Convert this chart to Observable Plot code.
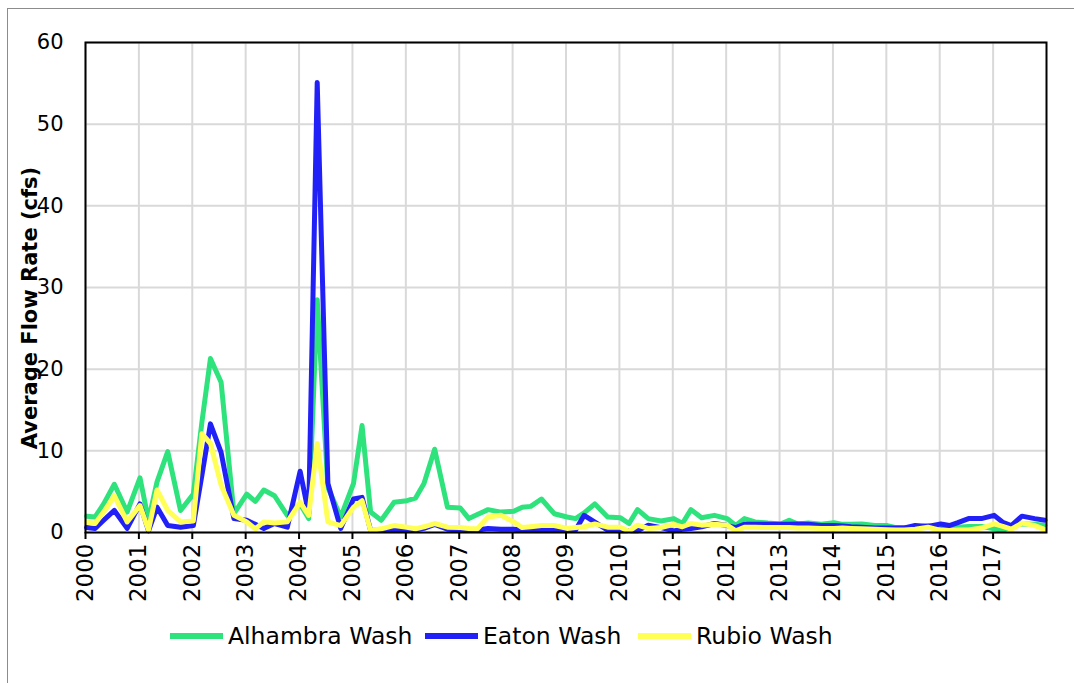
<!DOCTYPE html>
<html>
<head>
<meta charset="utf-8">
<script src="https://cdn.jsdelivr.net/npm/d3@7"></script>
<script src="https://cdn.jsdelivr.net/npm/@observablehq/plot@0.6"></script>
<style>
  body { margin: 0; background: #fff; }
  #wrap { position: relative; width: 1074px; height: 683px; overflow: hidden; background: #fff; font-family: "DejaVu Sans", Verdana, sans-serif; }
  #border { position: absolute; left: 7px; top: 8px; width: 1100px; height: 700px; border-left: 1.5px solid #8c8c8c; border-top: 1.5px solid #8c8c8c; }
  #chart { position: absolute; left: 0; top: 0; }
  #ytitle { position: absolute; left: 30px; top: 308px; transform: translate(-50%, -50%) rotate(-90deg); white-space: nowrap; font-weight: bold; font-size: 21px; color: #000; }
  .leg { position: absolute; top: 622px; display: flex; align-items: center; font-size: 23.5px; color: #000; white-space: nowrap; }
  .sw { width: 53px; height: 6px; margin-right: 5px; }
  #chart g[aria-label="y-axis tick label"] { font-size: 21px; }
  #chart g[aria-label="x-axis tick label"] { font-size: 23px; }
</style>
</head>
<body>
<div id="wrap">
  <div id="border"></div>
  <div id="chart"></div>
  <div id="ytitle"></div>
  <div id="legend"></div>
</div>
<script>
// ---- data ----
const dates = [
  2000.02, 2000.18, 2000.34, 2000.54, 2000.78,
  2001.02, 2001.18, 2001.34, 2001.54, 2001.78,
  2002.02, 2002.18, 2002.34, 2002.54, 2002.78,
  2003.02, 2003.18, 2003.34, 2003.54, 2003.78,
  2004.02, 2004.18, 2004.34, 2004.54, 2004.78,
  2005.02, 2005.18, 2005.34, 2005.54, 2005.78,
  2006.02, 2006.18, 2006.34, 2006.54, 2006.78,
  2007.02, 2007.18, 2007.34, 2007.54, 2007.78,
  2008.02, 2008.18, 2008.34, 2008.54, 2008.78,
  2009.02, 2009.18, 2009.34, 2009.54, 2009.78,
  2010.02, 2010.18, 2010.34, 2010.54, 2010.78,
  2011.02, 2011.18, 2011.34, 2011.54, 2011.78,
  2012.02, 2012.18, 2012.34, 2012.54, 2012.78,
  2013.02, 2013.18, 2013.34, 2013.54, 2013.78,
  2014.02, 2014.18, 2014.34, 2014.54, 2014.78,
  2015.02, 2015.18, 2015.34, 2015.54, 2015.78,
  2016.02, 2016.18, 2016.34, 2016.54, 2016.78,
  2017.02, 2017.18, 2017.34, 2017.54, 2017.78, 2017.97
];

const alhambra = [
  2.0, 1.9, 3.5, 5.9, 2.5,
  6.7, 1.5, 6.2, 9.9, 2.7,
  4.7, 13.5, 21.3, 18.4, 2.3,
  4.7, 3.8, 5.2, 4.5, 2.1,
  3.5, 1.7, 28.5, 5.5, 1.9,
  6.0, 13.1, 2.5, 1.5, 3.7,
  3.9, 4.2, 6.0, 10.2, 3.1,
  3.0, 1.7, 2.2, 2.8, 2.5,
  2.6, 3.1, 3.2, 4.1, 2.3,
  1.9, 1.7, 2.4, 3.5, 1.9,
  1.8, 1.1, 2.8, 1.7, 1.4,
  1.7, 1.1, 2.8, 1.8, 2.1,
  1.7, 0.85, 1.7, 1.3, 1.15,
  1.05, 1.5, 1.05, 1.15, 1.0,
  1.2, 1.0, 1.0, 1.05, 0.85,
  0.85, 0.6, 0.6, 0.65, 0.85,
  0.6, 0.6, 0.65, 0.75, 0.75,
  0.45, 0.25, 0.75, 1.05, 1.0, 0.85
];

const eaton = [
  0.6, 0.5, 1.5, 2.7, 0.5,
  3.5, 0.2, 3.1, 0.85, 0.65,
  0.85, 7.0, 13.3, 9.8, 1.7,
  1.5, 1.0, 0.5, 1.1, 0.65,
  7.5, 2.3, 55.1, 6.0, 0.5,
  4.1, 4.3, 0.25, 0.3, 0.3,
  0.3, 0.3, 0.5, 1.0, 0.4,
  0.3, 0.3, 0.3, 0.5, 0.4,
  0.4, 0.3, 0.3, 0.4, 0.3,
  0.3, 0.3, 2.1, 1.26, 0.3,
  0.2, 0.2, 0.2, 0.9, 0.6,
  0.2, 0.4, 0.5, 0.7, 1.1,
  0.85, 0.6, 1.0, 1.0, 1.0,
  1.0, 1.0, 1.05, 1.0, 0.85,
  0.85, 0.8, 0.7, 0.65, 0.55,
  0.55, 0.55, 0.55, 0.85, 0.75,
  1.05, 0.85, 1.2, 1.7, 1.7,
  2.1, 1.26, 0.85, 2.0, 1.7, 1.5
];

const rubio = [
  1.26, 1.1, 2.5, 4.5, 1.3,
  3.3, 0.3, 5.2, 2.7, 1.3,
  1.4, 12.1, 10.9, 5.8, 2.1,
  1.3, 0.45, 1.3, 1.15, 1.3,
  3.7, 2.1, 10.9, 1.3, 0.85,
  3.1, 3.9, 0.25, 0.45, 0.85,
  0.65, 0.45, 0.7, 1.1, 0.65,
  0.6, 0.5, 0.45, 1.9, 2.1,
  1.3, 0.6, 0.7, 0.85, 0.85,
  0.5, 0.6, 0.7, 1.05, 0.65,
  0.65, 0.15, 0.9, 0.5, 0.6,
  1.0, 0.7, 1.1, 0.9, 1.0,
  0.9, 0.2, 0.65, 0.65, 0.6,
  0.6, 0.6, 0.55, 0.55, 0.5,
  0.5, 0.55, 0.5, 0.45, 0.4,
  0.35, 0.3, 0.3, 0.4, 0.65,
  0.25, 0.25, 0.3, 0.3, 0.55,
  1.05, 0.75, 0.4, 1.15, 0.85, 0.35
];

const seriesNames = ["Alhambra Wash", "Eaton Wash", "Rubio Wash"];
const seriesColors = ["#2ee27c", "#2121f7", "#ffff55"];
const yearTicks = [2000, 2001, 2002, 2003, 2004, 2005, 2006, 2007, 2008, 2009, 2010, 2011, 2012, 2013, 2014, 2015, 2016, 2017];
const valueTicks = [0, 10, 20, 30, 40, 50, 60];
const yTitle = "Average Flow Rate (cfs)";

// ---- build table ----
const seriesValues = [alhambra, eaton, rubio];
const rows = [];
seriesNames.forEach((name, si) => {
  dates.forEach((d, i) => rows.push({ series: name, date: d, value: seriesValues[si][i] }));
});

const chart = Plot.plot({
  width: 1074,
  height: 612,
  marginLeft: 85,
  marginRight: 28,
  marginTop: 42,
  marginBottom: 80,
  style: { fontFamily: "'DejaVu Sans', Verdana, sans-serif", fontSize: "20px", color: "#000", background: "transparent" },
  x: { domain: [2000, 2018] },
  y: { domain: [0, 60] },
  color: { domain: seriesNames, range: seriesColors },
  marks: [
    Plot.gridX(yearTicks, { stroke: "#d9d9d9", strokeOpacity: 1, strokeWidth: 2 }),
    Plot.gridY(valueTicks, { stroke: "#d9d9d9", strokeOpacity: 1, strokeWidth: 2 }),
    Plot.line(rows, { x: "date", y: "value", z: "series", stroke: "series", strokeWidth: 5, strokeLinejoin: "round", strokeLinecap: "round" }),
    Plot.frame({ stroke: "#000", strokeWidth: 2 }),
    Plot.axisX({ ticks: yearTicks, tickFormat: d => String(d), tickRotate: -90, tickSize: 7, tickPadding: 4, strokeWidth: 2, label: null }),
    Plot.axisY({ ticks: valueTicks, tickSize: 0, tickPadding: 22, label: null })
  ]
});
document.getElementById("chart").appendChild(chart);

document.getElementById("ytitle").textContent = yTitle;

const legendPos = [170, 425, 638];
const legend = document.getElementById("legend");
seriesNames.forEach((name, i) => {
  const item = document.createElement("div");
  item.className = "leg";
  item.style.left = legendPos[i] + "px";
  const sw = document.createElement("div");
  sw.className = "sw";
  sw.style.background = seriesColors[i];
  const t = document.createElement("span");
  t.textContent = name;
  item.appendChild(sw);
  item.appendChild(t);
  legend.appendChild(item);
});
</script>
</body>
</html>
